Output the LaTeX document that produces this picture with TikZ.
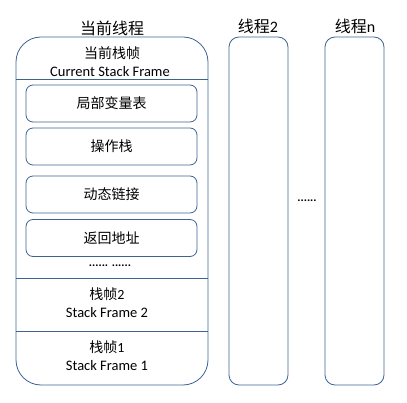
\documentclass[tikz,border=0pt]{standalone}
\usepackage{fontspec}
\setmainfont{Carlito}
\newfontfamily\cjk{Noto Sans CJK SC}
\usepackage{tikz}
\usetikzlibrary{positioning}
\definecolor{framecol}{RGB}{62,98,146}

\tikzset{
  threadbox/.style={draw=framecol, thick, rounded corners=10pt, minimum width=59pt, minimum height=348pt, inner sep=0pt},
  slotbox/.style={draw=framecol, thick, rounded corners=7pt, minimum width=171pt, minimum height=37pt, inner sep=0pt, font=\cjk\fontsize{14}{16}\selectfont},
  cntext/.style={font=\cjk\fontsize{14}{16}\selectfont, inner sep=0pt},
  entext/.style={font=\fontsize{14.5}{16}\selectfont, inner sep=0pt},
  titletext/.style={font=\fontsize{16}{18}\selectfont, inner sep=0pt},
  dotstext/.style={font=\bfseries\fontsize{12}{12}\selectfont, inner sep=0pt}
}

\begin{document}
\begin{tikzpicture}[x=1pt, y=-1pt]
\useasboundingbox (0,0) rectangle (407,403);
% threads
\node[draw=framecol, thick, rounded corners=25pt, minimum width=192pt, minimum height=348pt, inner sep=0pt] (cur) at (112,211) {};
\node[threadbox] (thr2) at (258.5,211) {};
\node[threadbox] (thrn) at (354.5,211) {};
\node[titletext] (curtitle) at (112,28) {{\cjk 当前线程}};
\node[titletext] (thr2title) at (258,26) {{\cjk 线程}2};
\node[titletext] (thrntitle) at (355,26) {{\cjk 线程}n};
\node[dotstext] (between) at (307,201) {......};

% current stack frame
\node[cntext] (curcn) at (112,53) {当前栈帧};
\node[entext] (curen) at (110,72) {Current Stack Frame};
\draw[framecol, thick] (cur.west |- 0,79) -- (cur.east |- 0,79);
\node[slotbox] (locals) at (111.5,103.5) {局部变量表};
\node[slotbox] (opstack) at (111.5,146.5) {操作栈};
\node[slotbox] (dynlink) at (111.5,194.5) {动态链接};
\node[slotbox] (retaddr) at (111.5,238) {返回地址};
\node[dotstext] (more) at (110,266) {...... ......};

% older frames
\draw[framecol, thick] (cur.west |- 0,278) -- (cur.east |- 0,278);
\node[cntext] (f2cn) at (107,294) {栈帧{\rmfamily 2}};
\node[entext] (f2en) at (107,313) {Stack Frame 2};
\draw[framecol, thick] (cur.west |- 0,331) -- (cur.east |- 0,331);
\node[cntext] (f1cn) at (107,347) {栈帧{\rmfamily 1}};
\node[entext] (f1en) at (107,366) {Stack Frame 1};
\end{tikzpicture}
\end{document}
